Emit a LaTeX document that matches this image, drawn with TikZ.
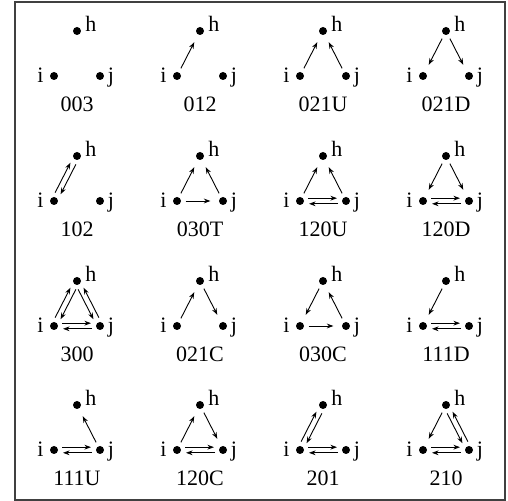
\documentclass[tikz,border=0pt]{standalone}
\usepackage{fontspec}
\setmainfont{Liberation Serif}
\usetikzlibrary{arrows.meta, calc}

% one triad: name, x, y of h, code
\newcommand\triad[4]{%
  \node[dot] (#1h) at (#2,#3) {};
  \node[dot] (#1i) at (#2-23,#3+45) {};
  \node[dot] (#1j) at (#2+23,#3+45) {};
  \node[lbl, anchor=base west] (#1hl) at (#2+8,#3+1) {h};
  \node[lbl, anchor=base east] (#1il) at (#2-33,#3+52) {i};
  \node[lbl, anchor=base west] (#1jl) at (#2+30.5,#3+52) {j};
  \node[lbl, anchor=base] (#1code) at (#2,#3+81) {#4};
}
% two arrows side by side: from, to, angles of the offset
\newcommand\mutual[4]{%
  \draw[pair] ($(#1.center)!1.4pt!#3:(#2.center)$) -- ($(#2.center)!1.4pt!#4:(#1.center)$);
  \draw[pair] ($(#2.center)!1.4pt!#3:(#1.center)$) -- ($(#1.center)!1.4pt!#4:(#2.center)$);
}

\begin{document}
\begin{tikzpicture}[
    x=0.5pt, y=-0.5pt,
    dot/.style={circle, fill=black, inner sep=0pt, minimum size=4pt, outer sep=2.3pt},
    lbl/.style={inner sep=0pt, font=\fontsize{11}{13}\selectfont},
    arr/.style={-{Stealth[length=3.3pt, width=2.4pt]}, line width=0.45pt, shorten >=2pt},
    pair/.style={-{Stealth[length=3.3pt, width=2.4pt]}, line width=0.45pt, shorten <=4pt, shorten >=4.5pt},
    frame/.style={draw=black!75, line width=0.6pt}
  ]
  \useasboundingbox (0,0) rectangle (508,501);
  \draw[frame] (15,2) rectangle (505,500);

  % --- row 1 ---
  \triad{t003}{77}{31}{003}
  \triad{t012}{200}{31}{012}
  \triad{t021U}{323}{31}{021U}
  \triad{t021D}{446}{31}{021D}

  \draw[arr] (t012i) -- (t012h);
  \draw[arr] (t021Ui) -- (t021Uh);
  \draw[arr] (t021Uj) -- (t021Uh);
  \draw[arr] (t021Dh) -- (t021Di);
  \draw[arr] (t021Dh) -- (t021Dj);

  % --- row 2 ---
  \triad{t102}{77}{156}{102}
  \triad{t030T}{200}{156}{030T}
  \triad{t120U}{323}{156}{120U}
  \triad{t120D}{446}{156}{120D}

  \mutual{t102i}{t102h}{90}{-90}
  \draw[arr] (t030Ti) -- (t030Th);
  \draw[arr] (t030Tj) -- (t030Th);
  \draw[arr] (t030Ti) -- (t030Tj);
  \draw[arr] (t120Ui) -- (t120Uh);
  \draw[arr] (t120Uj) -- (t120Uh);
  \mutual{t120Ui}{t120Uj}{90}{-90}
  \draw[arr] (t120Dh) -- (t120Di);
  \draw[arr] (t120Dh) -- (t120Dj);
  \mutual{t120Di}{t120Dj}{90}{-90}

  % --- row 3 ---
  \triad{t300}{77}{281}{300}
  \triad{t021C}{200}{281}{021C}
  \triad{t030C}{323}{281}{030C}
  \triad{t111D}{446}{281}{111D}

  \mutual{t300i}{t300h}{90}{-90}
  \mutual{t300i}{t300j}{90}{-90}
  \mutual{t300h}{t300j}{-90}{90}
  \draw[arr] (t021Ci) -- (t021Ch);
  \draw[arr] (t021Ch) -- (t021Cj);
  \draw[arr] (t030Ch) -- (t030Ci);
  \draw[arr] (t030Ci) -- (t030Cj);
  \draw[arr] (t030Cj) -- (t030Ch);
  \draw[arr] (t111Dh) -- (t111Di);
  \mutual{t111Di}{t111Dj}{90}{-90}

  % --- row 4 ---
  \triad{t111U}{77}{405}{111U}
  \triad{t120C}{200}{405}{120C}
  \triad{t201}{323}{405}{201}
  \triad{t210}{446}{405}{210}

  \draw[arr] (t111Uj) -- (t111Uh);
  \mutual{t111Ui}{t111Uj}{90}{-90}
  \draw[arr] (t120Ci) -- (t120Ch);
  \draw[arr] (t120Ch) -- (t120Cj);
  \mutual{t120Ci}{t120Cj}{90}{-90}
  \mutual{t201i}{t201h}{90}{-90}
  \mutual{t201i}{t201j}{90}{-90}
  \draw[arr] (t210h) -- (t210i);
  \mutual{t210h}{t210j}{-90}{90}
  \mutual{t210i}{t210j}{90}{-90}
\end{tikzpicture}
\end{document}
